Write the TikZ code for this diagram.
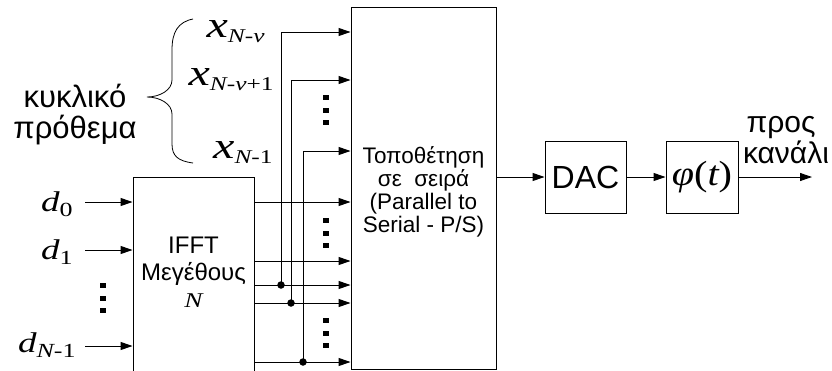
\documentclass[tikz,border=0pt]{standalone}
\usepackage{fontspec}
\setmainfont{Liberation Sans}
\newfontfamily\tms{Liberation Serif}[FakeStretch=1.3]
\newfontfamily\tmsb{Liberation Serif}[FakeStretch=1.15]
\usetikzlibrary{arrows.meta}
\newcommand\xlab[1]{{\fontsize{37}{37}\selectfont\tms\itshape x}{\fontsize{19.5}{19.5}\selectfont\tms\raisebox{-5pt}{#1}}}
\newcommand\dlab[1]{{\fontsize{28.5}{28.5}\selectfont\tms\itshape d}{\fontsize{20}{20}\selectfont\tms\raisebox{-5pt}{#1}}}
\begin{document}
\begin{tikzpicture}[x=1pt,y=-1pt,
  line width=0.95pt,
  arr/.style={-{Triangle[length=12pt,width=8pt]}},
  blockbox/.style={draw,rectangle,inner sep=0pt},
  lbl/.style={inner sep=0pt},
  vdot/.style={fill=black,draw=none,minimum width=5.5pt,minimum height=5pt,inner sep=0pt,rectangle},
  junc/.style={circle,fill=black,draw=none,minimum size=7.5pt,inner sep=0pt}]
\useasboundingbox (0,0) rectangle (832,370);

% blocks
\node[blockbox,minimum width=145pt,minimum height=362pt] (ps) at (423.5,188) {};
\node[blockbox,minimum width=121pt,minimum height=200pt] (iff) at (193.5,277) {};
\node[blockbox,minimum width=81pt,minimum height=72pt] (dac) at (585.5,177) {\fontsize{32}{32}\selectfont DAC};
\node[blockbox,minimum width=72pt,minimum height=72pt] (phi) at (702,177) {\fontsize{35}{35}\selectfont\tmsb\itshape φ\upshape(\itshape t\upshape)};

% block texts
\node[lbl,align=center,font=\fontsize{22.5}{23}\selectfont] (pstext) at (423.5,192)
  {Τοποθέτηση\\σε \ σειρά\\(Parallel to\\Serial - P/S)};
\node[lbl,anchor=base,font=\fontsize{24}{24}\selectfont] (ifft1) at (193.5,253) {IFFT};
\node[lbl,anchor=base,font=\fontsize{24}{24}\selectfont] (ifft2) at (193.5,280) {Μεγέθους};
\node[lbl,anchor=base,font=\fontsize{21}{21}\selectfont\tms\itshape] (ifft3) at (193.5,307) {N};

% prefix labels
\node[lbl,anchor=base east] (xa) at (265,37.5) {\xlab{\itshape N\upshape-\itshape v}};
\node[lbl,anchor=base east] (xb) at (274,85) {\xlab{\itshape N\upshape-\itshape v\upshape+1}};
\node[lbl,anchor=base east] (xc) at (273,158) {\xlab{\itshape N\upshape-1}};
\node[lbl,anchor=base,font=\fontsize{31}{31}\selectfont] (cp1) at (75,107) {κυκλικό};
\node[lbl,anchor=base,font=\fontsize{31}{31}\selectfont] (cp2) at (75,138) {πρόθεμα};
\draw[line width=0.8pt] (193,19) .. controls (178,22) and (172,32) .. (172,50) -- (172,80)
  .. controls (172,90) and (160,97) .. (147,97)
  .. controls (160,97) and (172,104) .. (172,114) -- (172,144)
  .. controls (172,156) and (178,161) .. (193,163);

% inputs
\node[lbl,anchor=base east] (d0) at (73,211) {\dlab{0}};
\node[lbl,anchor=base east] (d1) at (73,259) {\dlab{1}};
\node[lbl,anchor=base east] (dn) at (76,352) {\dlab{{\itshape N}-1}};
\coordinate (a0) at (85,202);
\coordinate (a1) at (85,250);
\coordinate (an) at (85,346);
\draw[arr] (a0) -- (iff.west |- a0);
\draw[arr] (a1) -- (iff.west |- a1);
\draw[arr] (an) -- (iff.west |- an);
\node[vdot] (ld1) at (103,285.5) {};
\node[vdot] (ld2) at (103,298) {};
\node[vdot] (ld3) at (103,310.5) {};

% IFFT outputs
\node[junc] (j1) at (281,285) {};
\node[junc] (j2) at (291,303) {};
\node[junc] (j3) at (303,362) {};
\draw[arr] (iff.east |- 0,202) -- (ps.west |- 0,202);
\draw[arr] (iff.east |- 0,261) -- (ps.west |- 0,261);
\draw[arr] (iff.east |- j1) -- (ps.west |- j1);
\draw[arr] (iff.east |- j2) -- (ps.west |- j2);
\draw[arr] (iff.east |- j3) -- (ps.west |- j3);
\draw[arr] (j1.center) |- (ps.west |- 0,32);
\draw[arr] (j2.center) |- (ps.west |- 0,80);
\draw[arr] (j3.center) |- (ps.west |- 0,151);

% ellipses near P/S
\node[vdot] (pa1) at (326,97.5) {};
\node[vdot] (pa2) at (326,110) {};
\node[vdot] (pa3) at (326,122.5) {};
\node[vdot] (pb1) at (326,220.5) {};
\node[vdot] (pb2) at (326,233) {};
\node[vdot] (pb3) at (326,245.5) {};
\node[vdot] (pc1) at (326,320.5) {};
\node[vdot] (pc2) at (326,333) {};
\node[vdot] (pc3) at (326,345.5) {};

% chain
\coordinate (out) at (812,177);
\draw[arr] (dac.west -| ps.east) -- (dac.west);
\draw[arr] (dac.east) -- (phi.west);
\draw[arr] (phi.east) -- (out);
\node[lbl,anchor=base,font=\fontsize{30}{30}\selectfont] (to1) at (781,132) {προς};
\node[lbl,anchor=base,font=\fontsize{30}{30}\selectfont] (to2) at (786,163) {κανάλι};
\end{tikzpicture}
\end{document}
